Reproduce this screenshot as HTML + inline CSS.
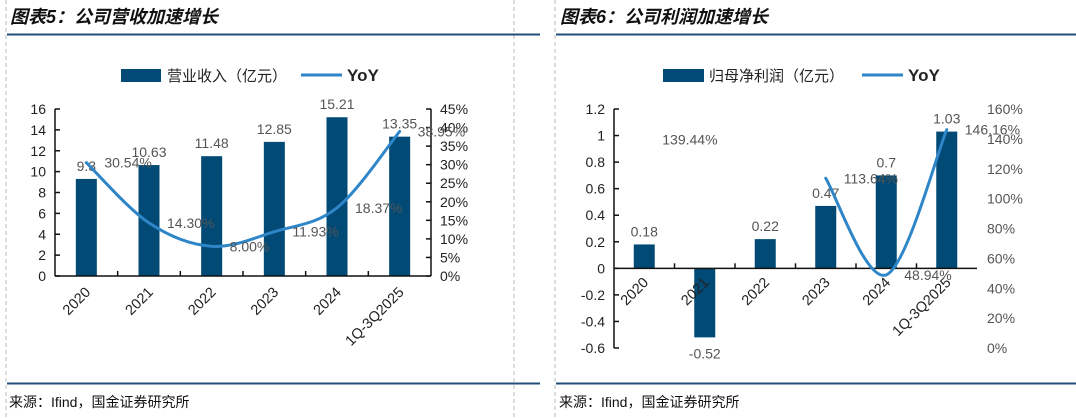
<!DOCTYPE html>
<html><head><meta charset="utf-8">
<style>
html,body{margin:0;padding:0;background:#fff;}
svg{display:block;font-family:"Liberation Sans","Noto Sans CJK SC",sans-serif;}
</style></head>
<body>
<svg id="s" width="1076" height="418" viewBox="0 0 1076 418">
<line x1="6" y1="0" x2="6" y2="418" stroke="#bbb" stroke-dasharray="4,3"/>
<line x1="514" y1="0" x2="514" y2="418" stroke="#bbb" stroke-dasharray="4,3"/>
<line x1="555" y1="0" x2="555" y2="418" stroke="#bbb" stroke-dasharray="4,3"/>
<line x1="7" y1="34.5" x2="540" y2="34.5" stroke="#1f4e79" stroke-width="2"/>
<line x1="7" y1="383.5" x2="540" y2="383.5" stroke="#1f4e79" stroke-width="2"/>
<line x1="556" y1="34.5" x2="1076" y2="34.5" stroke="#1f4e79" stroke-width="2"/>
<line x1="556" y1="383.5" x2="1076" y2="383.5" stroke="#1f4e79" stroke-width="2"/>
<text x="10" y="23" font-size="18" font-weight="bold" font-style="italic" fill="#111">图表5：公司营收加速增长</text>
<text x="560" y="23" font-size="18" font-weight="bold" font-style="italic" fill="#111">图表6：公司利润加速增长</text>
<text x="9" y="407" font-size="14" fill="#111">来源：Ifind，国金证券研究所</text>
<text x="559" y="407" font-size="14" fill="#111">来源：Ifind，国金证券研究所</text>
<rect x="121" y="69" width="40" height="13" fill="#004a75"/>
<text x="167" y="81" font-size="15" fill="#222">营业收入（亿元）</text>
<line x1="301" y1="75" x2="342" y2="75" stroke="#2e86c8" stroke-width="3"/>
<text x="347" y="81" font-size="17" font-weight="bold" fill="#222">YoY</text>
<rect x="663" y="69" width="41" height="13" fill="#004a75"/>
<text x="709" y="81" font-size="15" fill="#222">归母净利润（亿元）</text>
<line x1="862" y1="75" x2="903" y2="75" stroke="#2e86c8" stroke-width="3"/>
<text x="908" y="81" font-size="17" font-weight="bold" fill="#222">YoY</text>
<g id="c1"></g><g id="c2"></g>
</svg>
<script>
const categories = ["2020","2021","2022","2023","2024","1Q-3Q2025"];
const revenue = [9.3,10.63,11.48,12.85,15.21,13.35];
const revenueYoY = [30.54,14.30,8.00,11.93,18.37,38.95];
const profit = [0.18,-0.52,0.22,0.47,0.7,1.03];
const profitYoY = [139.44,null,null,113.64,48.94,146.16];
const leftTicks1 = [0,2,4,6,8,10,12,14,16];
const rightTicks1 = [0,5,10,15,20,25,30,35,40,45];
const leftTicks2 = [-0.6,-0.4,-0.2,0,0.2,0.4,0.6,0.8,1,1.2];
const rightTicks2 = [0,20,40,60,80,100,120,140,160];

const NS="http://www.w3.org/2000/svg";
function mk(p,t,a){const e=document.createElementNS(NS,t);for(const k in a)e.setAttribute(k,a[k]);p.appendChild(e);return e;}
function smooth(pts){let d="M"+pts[0][0]+","+pts[0][1];for(let i=0;i<pts.length-1;i++){const p0=pts[i-1]||pts[i],p1=pts[i],p2=pts[i+1],p3=pts[i+2]||p2;const t=1/6;d+=" C"+(p1[0]+(p2[0]-p0[0])*t)+","+(p1[1]+(p2[1]-p0[1])*t)+" "+(p2[0]-(p3[0]-p1[0])*t)+","+(p2[1]-(p3[1]-p1[1])*t)+" "+p2[0]+","+p2[1];}return d;}

function chart(g,cfg){
  const {x0,x1,yTop,yBot,lmin,lmax,rmin,rmax,bars,line,lt,rt,lfmt,rx,axisRight,xlabY,id}=cfg;
  const n=categories.length,bw=(x1-x0)/n;
  const cx=i=>x0+bw*(i+0.5);
  const yl=v=>yBot-(v-lmin)/(lmax-lmin)*(yBot-yTop);
  const yr=v=>yBot-(v-rmin)/(rmax-rmin)*(yBot-yTop);
  const y0=yl(0);
  let e=mk(g,"line",{x1:x0,y1:yTop,x2:x0,y2:yBot,stroke:"#111","stroke-width":1.5});
  
  
  lt.forEach(v=>{const y=yl(v);mk(g,"line",{x1:x0,y1:y,x2:x0+5,y2:y,stroke:"#111","stroke-width":1.5});
    const t=mk(g,"text",{x:x0-9,y:y+5,"font-size":14,"text-anchor":"end",fill:"#222"});t.textContent=lfmt(v);
    
    });
  if(axisRight){e=mk(g,"line",{x1:x1,y1:yTop,x2:x1,y2:yBot,stroke:"#111","stroke-width":1.5});
    
    }
  rt.forEach(v=>{const y=yr(v);if(axisRight)mk(g,"line",{x1:x1,y1:y,x2:x1-5,y2:y,stroke:"#111","stroke-width":1.5});
    const t=mk(g,"text",{x:rx,y:y+5,"font-size":14,fill:axisRight?"#222":"#555"});t.textContent=v+"%";
    
    });
  bars.forEach((v,i)=>{const y=yl(v);const r=mk(g,"rect",{x:cx(i)-10.5,y:Math.min(y,y0),width:21,height:Math.abs(y0-y),fill:"#004a75"});
    
    
    const t=mk(g,"text",{x:cx(i),y:v>=0?y-8:y+21,"font-size":14,"text-anchor":"middle",fill:"#555"});t.textContent=String(v);
    
    });
  e=mk(g,"line",{x1:x0,y1:y0,x2:x1,y2:y0,stroke:"#111","stroke-width":1.5});
  
  
  for(let i=1;i<n;i++)mk(g,"line",{x1:x0+bw*i,y1:y0,x2:x0+bw*i,y2:y0-5,stroke:"#111","stroke-width":1.5});
  categories.forEach((c,i)=>{const ax=cx(i)+5,ay=y0+xlabY;const t=mk(g,"text",{x:ax,y:ay,"font-size":14.5,"text-anchor":"end",fill:"#222",transform:"rotate(-45 "+ax+" "+ay+")"});t.textContent=c;
    
    });
  let seg=[],segs=[];line.forEach((v,i)=>{if(v==null){if(seg.length)segs.push(seg);seg=[];}else seg.push([cx(i),yr(v)]);});if(seg.length)segs.push(seg);
  segs.forEach(s=>{if(s.length<2)return;const p=mk(g,"path",{d:smooth(s),fill:"none",stroke:"#2e86c8","stroke-width":3,"stroke-linecap":"round"});
    
    });
  line.forEach((v,i)=>{if(v==null)return;const t=mk(g,"text",{x:cx(i)+18,y:yr(v)+5,"font-size":14,fill:"#555"});t.textContent=v.toFixed(2)+"%";
    
    });
}
chart(document.getElementById("c1"),{id:1,x0:55,x1:431,yTop:109,yBot:276,lmin:0,lmax:16,rmin:0,rmax:45,bars:revenue,line:revenueYoY,lt:leftTicks1,rt:rightTicks1,lfmt:v=>String(v),rx:440,axisRight:true,xlabY:17});
chart(document.getElementById("c2"),{id:2,x0:614,x1:977,yTop:109,yBot:348,lmin:-0.6,lmax:1.2,rmin:0,rmax:160,bars:profit,line:profitYoY,lt:leftTicks2,rt:rightTicks2,lfmt:v=>String(Math.round(v*10)/10),rx:987,axisRight:false,xlabY:15});
</script>
</body></html>
